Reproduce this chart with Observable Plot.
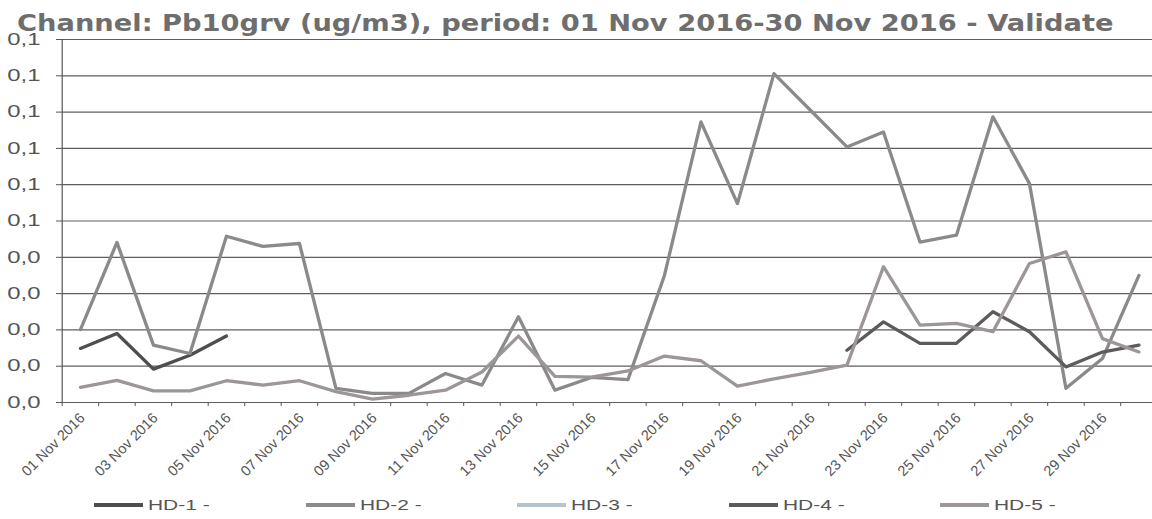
<!DOCTYPE html>
<html>
<head>
<meta charset="utf-8">
<script src="https://cdn.jsdelivr.net/npm/d3@7"></script>
<script src="https://cdn.jsdelivr.net/npm/@observablehq/plot@0.6"></script>
<style>
  html, body { margin: 0; padding: 0; background: #fff; overflow: hidden; }
  #wrap { position: relative; width: 1152px; height: 519px; }
  #title { height: 31px; padding-left: 17px; font: 700 23px "DejaVu Sans", sans-serif; color: #6e6e6e; line-height: 31px; white-space: nowrap; position: relative; top: 8px; }
  #title span { display: inline-block; transform: scaleX(1.187); transform-origin: 0 50%; }
  #chart svg { overflow: visible; display: block; }
  #legend { height: 29px; display: flex; padding-left: 94px; align-items: center; font: 15.5px "Liberation Sans", Arial, sans-serif; color: #555; }
  .item { width: 214px; display: flex; align-items: center; }
  .sw { width: 49px; height: 4px; margin-right: 5px; }
  .lab { display: inline-block; transform: scaleX(1.35); transform-origin: 0 50%; }
</style>
</head>
<body>
<div id="wrap">
  <div id="title"><span>Channel: Pb10grv (ug/m3), period: 01 Nov 2016-30 Nov 2016 - Validate</span></div>
  <div id="chart"></div>
  <div id="legend"></div>
</div>
<script>
const dates = ["01 Nov 2016","02 Nov 2016","03 Nov 2016","04 Nov 2016","05 Nov 2016","06 Nov 2016","07 Nov 2016","08 Nov 2016","09 Nov 2016","10 Nov 2016",
  "11 Nov 2016","12 Nov 2016","13 Nov 2016","14 Nov 2016","15 Nov 2016","16 Nov 2016","17 Nov 2016","18 Nov 2016","19 Nov 2016","20 Nov 2016",
  "21 Nov 2016","22 Nov 2016","23 Nov 2016","24 Nov 2016","25 Nov 2016","26 Nov 2016","27 Nov 2016","28 Nov 2016","29 Nov 2016","30 Nov 2016"];
const tickLabels = ["01 Nov 2016","03 Nov 2016","05 Nov 2016","07 Nov 2016","09 Nov 2016","11 Nov 2016","13 Nov 2016","15 Nov 2016",
  "17 Nov 2016","19 Nov 2016","21 Nov 2016","23 Nov 2016","25 Nov 2016","27 Nov 2016","29 Nov 2016"];
const yTicks = [0, 0.01, 0.02, 0.03, 0.04, 0.05, 0.06, 0.07, 0.08, 0.09, 0.1];

const seriesNames = ["HD-1 -", "HD-2 -", "HD-3 -", "HD-4 -", "HD-5 -"];
const seriesColors = ["#4e4e4e", "#8a8a8a", "#b8c2cc", "#5c5c5c", "#9c9696"];

const HD1 = [0.0149, 0.019, 0.0092, 0.013, 0.0183, null, null, null, null, null,
  null, null, null, null, null, null, null, null, null, null,
  null, null, null, null, null, null, null, null, null, null];
const HD2 = [0.0201, 0.0441, 0.0158, 0.0135, 0.0458, 0.043, 0.0438, 0.0039, 0.0025, 0.0025,
  0.008, 0.0048, 0.0236, 0.0034, 0.0069, 0.0063, 0.035, 0.0773, 0.0548, 0.0906,
  0.0805, 0.0704, 0.0745, 0.0442, 0.0461, 0.0787, 0.0603, 0.0039, 0.0121, 0.035];
const HD3 = [];
const HD4 = [null, null, null, null, null, null, null, null, null, null,
  null, null, null, null, null, null, null, null, null, null,
  null, 0.0144, 0.0222, 0.0163, 0.0163, 0.025, 0.0195, 0.0098, 0.0139, 0.0158];
const HD5 = [0.0042, 0.0061, 0.0032, 0.0032, 0.006, 0.0048, 0.006, 0.003, 0.0009, 0.002,
  0.0034, 0.0084, 0.0183, 0.0072, 0.007, 0.0087, 0.0128, 0.0115, 0.0045, 0.0065,
  0.0083, 0.0103, 0.0374, 0.0213, 0.0218, 0.0195, 0.0383, 0.0415, 0.0176, 0.0139];

const series = [HD1, HD2, HD3, HD4, HD5];
const dayOf = (label) => dates.indexOf(label) + 1;
const boundaries = dates.map((d, i) => i + 0.5);
const fmt = (v) => v.toFixed(1).replace(".", ",");

const lineMarks = series.map((s, k) =>
  Plot.line(s, {x: (d, i) => i + 1, y: (d) => d, stroke: seriesColors[k], strokeWidth: 3.3})
);

const chart = Plot.plot({
  width: 1152,
  height: 459,
  marginLeft: 62,
  marginRight: 0,
  marginTop: 8,
  marginBottom: 88,
  style: {background: "transparent", overflow: "visible"},
  x: {domain: [0.5, 30.5], range: [61.7, 1156.7]},
  y: {domain: [0, 0.1]},
  marks: [
    Plot.ruleY(yTicks, {stroke: "#5e5e5e", strokeWidth: 1.2}),
    Plot.ruleX([0.5], {stroke: "#555", strokeWidth: 1.2}),
    Plot.axisY({ticks: yTicks, tickSize: 6, tickPadding: 16, tickFormat: fmt, fontSize: 16.5, color: "#555", fontFamily: "Liberation Sans"}),
    Plot.axisX({ticks: boundaries, tickSize: 4, tickFormat: () => "", color: "#555"}),
    Plot.text(tickLabels, {x: dayOf, y: 0, text: (d) => d, rotate: -45, textAnchor: "end", dx: 2, dy: 13,
      fontSize: 14.5, fill: "#555", fontFamily: "Liberation Sans"}),
    ...lineMarks
  ]
});
document.getElementById("chart").appendChild(chart);

// widen y tick labels to match the scanned glyph proportions
d3.select(chart).selectAll('g[aria-label="y-axis tick label"] text').each(function() {
  const t = d3.select(this);
  const tr = t.attr("transform");
  if (tr) t.attr("transform", tr + " scale(1.45,1)");
});

const legend = d3.select("#legend");
seriesNames.forEach((name, k) => {
  const it = legend.append("div").attr("class", "item");
  it.append("div").attr("class", "sw").style("background", seriesColors[k]);
  it.append("span").attr("class", "lab").text(name);
});
</script>
</body>
</html>
